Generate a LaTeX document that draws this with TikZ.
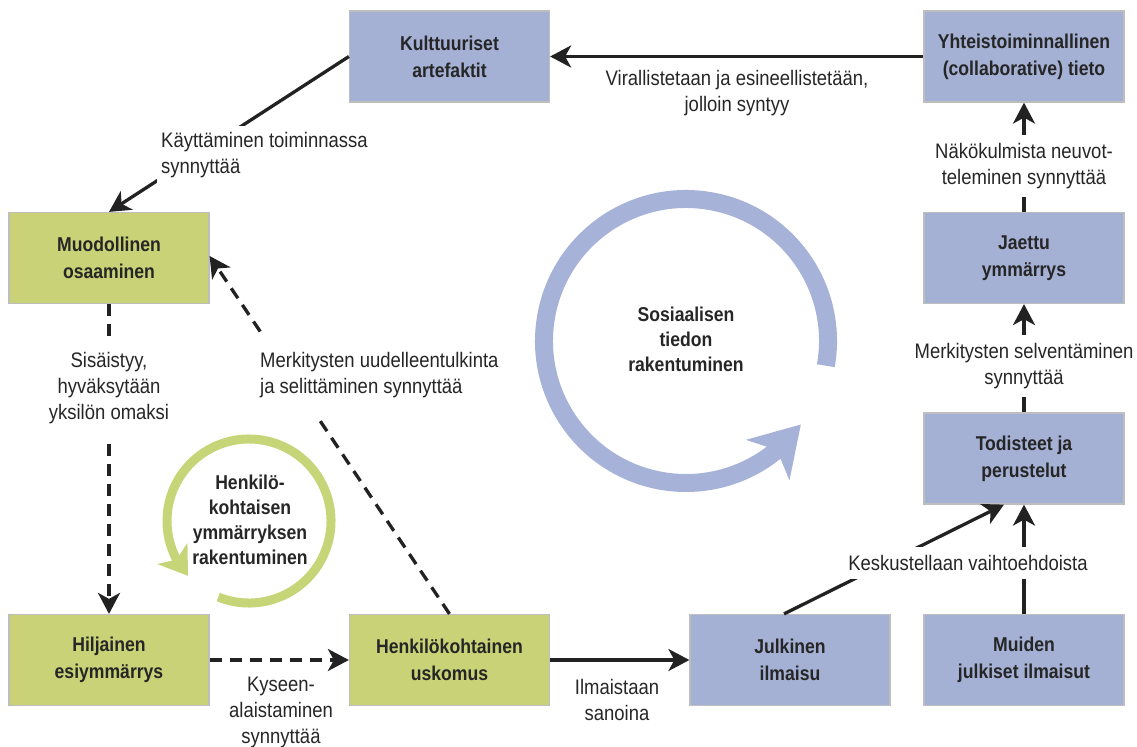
\documentclass[tikz,border=0pt]{standalone}
\usepackage{fontspec}
\setmainfont{Liberation Sans}[FakeStretch=0.88]
\usetikzlibrary{arrows.meta,bending}

\definecolor{boxblue}{RGB}{164,176,212}
\definecolor{boxgreen}{RGB}{201,210,118}
\definecolor{ringblue}{RGB}{166,178,215}
\definecolor{ringgreen}{RGB}{198,213,120}
\definecolor{ink}{RGB}{38,38,38}
\definecolor{wire}{RGB}{34,34,34}
\definecolor{rim}{RGB}{190,190,190}

\newcommand\diagfont{\fontsize{21bp}{26bp}\selectfont}
\newcommand\stagefont{\fontsize{20bp}{27bp}\selectfont\bfseries}

\tikzset{
  stage/.style={draw=rim, line width=1.2bp, minimum width=200bp, minimum height=91bp,
    inner sep=0pt, align=center, text=ink, font=\stagefont},
  socialbox/.style={stage, fill=boxblue},
  personalbox/.style={stage, fill=boxgreen},
  caption/.style={align=center, text=ink, font=\diagfont, inner sep=0pt},
  gapcaption/.style={caption, fill=white, inner xsep=4bp, inner ysep=8bp},
  title/.style={align=center, text=ink, font=\fontsize{20bp}{25bp}\selectfont\bfseries, inner sep=0pt},
  tip/.style={-{Stealth[length=21bp,width=22bp,inset=6bp]}},
  conn/.style={draw=wire, line width=3.3bp, tip},
  dconn/.style={conn, dash pattern=on 12bp off 8bp},
}

\begin{document}
\begin{tikzpicture}[x=1bp,y=-1bp]
\useasboundingbox (0,0) rectangle (1137,747);

% stages of knowledge building
\node[socialbox]   (kult) at (449.5,56.5) {Kulttuuriset\\artefaktit};
\node[socialbox]   (yht)  at (1024,56.5)  {Yhteistoiminnallinen\\(collaborative) tieto};
\node[personalbox] (muod) at (109,258)    {Muodollinen\\osaaminen};
\node[socialbox]   (jaet) at (1024,258)   {Jaettu\\ymmärrys};
\node[socialbox]   (todi) at (1024,458.5) {Todisteet ja\\perustelut};
\node[personalbox] (hilj) at (109,660)    {Hiljainen\\esiymmärrys};
\node[personalbox] (henk) at (449.5,660)  {Henkilökohtainen\\uskomus};
\node[socialbox]   (julk) at (790,660)    {Julkinen\\ilmaisu};
\node[socialbox]   (muid) at (1024,660)   {Muiden\\julkiset ilmaisut};

% cycle arrows
\draw[ringblue, line width=18bp, -{Stealth[length=48bp,width=58bp,inset=13bp]}]
  (686,341) ++(10:142) arc[start angle=10, end angle=-324, radius=142];
\draw[ringgreen, line width=9bp, -{Stealth[length=27bp,width=36bp,inset=7bp]}]
  (249,521) ++(112:82) arc[start angle=112, end angle=-222, radius=82];
\node[title] (social) at (686,339) {Sosiaalisen\\tiedon\\rakentuminen};
\node[title] (personal) at (250,520) {Henkilö-\\kohtaisen\\ymmärryksen\\rakentuminen};

% connectors
\draw[conn] (yht) -- (kult);
\draw[conn] (kult.west) -- (muod.north);
\draw[conn] (jaet) -- (yht);
\draw[conn] (todi) -- (jaet);
\draw[conn] (muid) -- (todi);
\draw[conn] ([xshift=-6bp]julk.north) -- ([xshift=-20bp]todi.south);
\draw[conn] (henk) -- (julk);
\draw[dconn] (hilj) -- (henk);
\draw[dconn] (muod) -- (hilj);
\draw[dconn] (henk.north) -- ([yshift=2bp]muod.east);

% connector captions
\node[caption] (c1) at (737,93.5) {Virallistetaan ja esineellistetään,\\jolloin syntyy};
\node[gapcaption, align=left, anchor=west, inner ysep=7bp] (c2) at (157,155.5)
  {Käyttäminen toiminnassa\\synnyttää};
\node[gapcaption] (c3) at (1024,166) {Näkökulmista neuvot-\\teleminen synnyttää};
\node[gapcaption] (c4) at (1024,366) {Merkitysten selventäminen\\synnyttää};
\node[gapcaption] (c5) at (968,563) {Keskustellaan vaihtoehdoista};
\node[caption] (c6) at (617,700) {Ilmaistaan\\sanoina};
\node[caption] (c7) at (281,712) {Kyseen-\\alaistaminen\\synnyttää};
\node[gapcaption, inner ysep=13bp] (c8) at (109,388) {Sisäistyy,\\hyväksytään\\yksilön omaksi};
\node[gapcaption, align=left, anchor=west, inner ysep=18bp] (c9) at (256,375.5)
  {Merkitysten uudelleentulkinta\\ja selittäminen synnyttää};
\end{tikzpicture}
\end{document}
